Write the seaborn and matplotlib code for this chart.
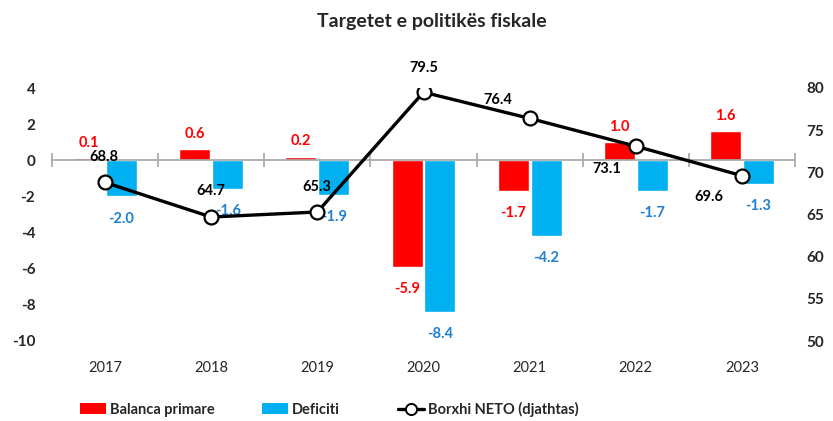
import numpy as np
import pandas as pd
import matplotlib
matplotlib.use('Agg')
import matplotlib.pyplot as plt
import matplotlib.transforms as mtransforms
from matplotlib.patches import Patch
from matplotlib.lines import Line2D
import seaborn as sns

# ---- data ----
years = ['2017', '2018', '2019', '2020', '2021', '2022', '2023']
balanca = [0.1, 0.6, 0.2, -5.9, -1.7, 1.0, 1.6]
deficiti = [-2.0, -1.6, -1.9, -8.4, -4.2, -1.7, -1.3]
borxhi = [68.8, 64.7, 65.3, 79.5, 76.4, 73.1, 69.6]
series_names = ['Balanca primare', 'Deficiti', 'Borxhi NETO (djathtas)']
title = 'Targetet e politikës fiskale'
left_ticks = [-10, -8, -6, -4, -2, 0, 2, 4]
right_ticks = [50, 55, 60, 65, 70, 75, 80]

# ---- styles ----
RED = '#FF0000'
BLUE = '#00B0F0'
BLUE_TXT = '#1F7FD0'
line_label_offsets = [(-1, 25), (0, 26), (0, 25), (0, 24), (-32, 18), (-29, -23), (-33, -21)]
legend_x = [80, 262, 398]

sns.set_theme(style='white')
plt.rcParams['font.family'] = ['Lato', 'DejaVu Sans']

df = pd.DataFrame({
    'year': years * 2,
    'value': balanca + deficiti,
    'series': [series_names[0]] * len(years) + [series_names[1]] * len(years),
})

fig = plt.figure(figsize=(8.33, 4.21), dpi=100)
ax = fig.add_axes([52 / 833, 80 / 421, 743 / 833, 253 / 421])

sns.barplot(data=df, x='year', y='value', hue='series', hue_order=series_names[:2],
            palette=[RED, BLUE], width=0.62, gap=0.06, saturation=1,
            errorbar=None, legend=False, ax=ax)

ax.set_xlim(-0.5, len(years) - 0.5)
ax.set_ylim(-10, 4)
ax.set_yticks(left_ticks)
ax.set_yticklabels([str(t) for t in left_ticks], fontweight='bold', fontsize=11)
ax.tick_params(axis='y', length=0, pad=12)
ax.set_xlabel('')
ax.set_ylabel('')

for s in ['left', 'right', 'top']:
    ax.spines[s].set_visible(False)
ax.spines['bottom'].set_position(('data', 0))
ax.spines['bottom'].set_color('#A6A6A6')
ax.spines['bottom'].set_linewidth(1.2)
ax.set_xticks(np.arange(len(years) + 1) - 0.5)
ax.set_xticklabels([''] * (len(years) + 1))
ax.tick_params(axis='x', direction='inout', length=10, width=1.2, color='#A6A6A6', bottom=True)

trans = mtransforms.blended_transform_factory(ax.transData, ax.transAxes)
for i, y in enumerate(years):
    ax.text(i, -0.107, y, transform=trans, ha='center', va='center', fontsize=10.5)

# bar labels: positive above (smaller pad), negative below (larger pad)
for cont, vals, col in [(ax.containers[0], balanca, RED), (ax.containers[1], deficiti, BLUE_TXT)]:
    pos = [f'{v:.1f}' if v >= 0 else '' for v in vals]
    neg = [f'{v:.1f}' if v < 0 else '' for v in vals]
    ax.bar_label(cont, labels=pos, padding=6, color=col, fontweight='bold', fontsize=10.5)
    ax.bar_label(cont, labels=neg, padding=11, color=col, fontweight='bold', fontsize=10.5)

# line on right axis
ax2 = ax.twinx()
xs = np.arange(len(years))
sns.lineplot(x=xs, y=borxhi, ax=ax2, color='black', linewidth=2.4, marker='o',
             markersize=10, markerfacecolor='white', markeredgecolor='black',
             markeredgewidth=1.6, zorder=5)
ax2.set_ylim(50, 80)
ax2.set_yticks(right_ticks)
ax2.set_yticklabels([str(t) for t in right_ticks], fontweight='bold', fontsize=11)
ax2.tick_params(axis='y', length=0, pad=8)
for s in ['left', 'right', 'top', 'bottom']:
    ax2.spines[s].set_visible(False)
ax2.set_ylabel('')

for i, v in enumerate(borxhi):
    dx, dy = line_label_offsets[i]
    ax2.annotate(f'{v:.1f}', (xs[i], v), xytext=(dx, dy), textcoords='offset pixels',
                 ha='center', va='center', fontsize=10.5, fontweight='bold',
                 color='black', annotation_clip=False)

fig.text(0.518, 1 - 22 / 421, title, ha='center', va='center', fontsize=14, fontweight='bold')

handles = [Patch(facecolor=RED, edgecolor='none'),
           Patch(facecolor=BLUE, edgecolor='none'),
           Line2D([0], [0], color='black', lw=2.4, marker='o', markersize=8,
                  markerfacecolor='white', markeredgecolor='black', markeredgewidth=1.4)]
for h, lab, lx in zip(handles, series_names, legend_x):
    fig.legend([h], [lab], loc='center left', bbox_to_anchor=(lx / 833, 0.027),
               frameon=False, borderpad=0, borderaxespad=0, handlelength=1.8,
               handletextpad=0.25, prop={'weight': 'bold', 'size': 10.5})

fig.savefig('out.png', dpi=100)
